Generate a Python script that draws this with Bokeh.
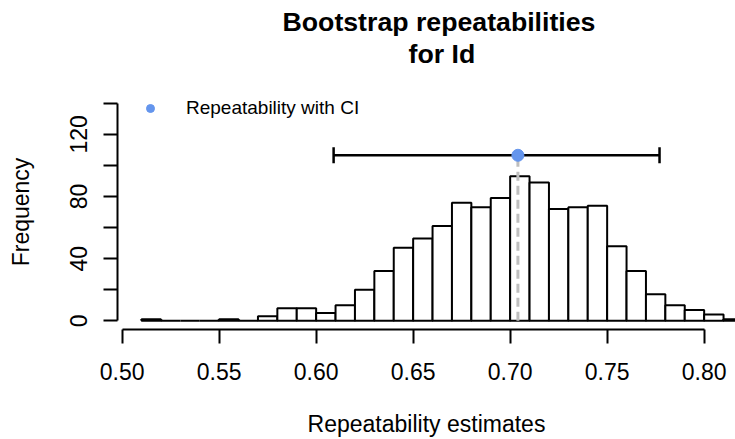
from bokeh.plotting import figure
from bokeh.models import (Range1d, FixedTicker, Title, Whisker, TeeHead,
                          ColumnDataSource, Legend, LegendItem)
from bokeh.embed import file_html
from bokeh.resources import INLINE

# ---------------- data ----------------
bin_left = [0.51, 0.52, 0.53, 0.54, 0.55, 0.56, 0.57, 0.58, 0.59, 0.60,
            0.61, 0.62, 0.63, 0.64, 0.65, 0.66, 0.67, 0.68, 0.69, 0.70,
            0.71, 0.72, 0.73, 0.74, 0.75, 0.76, 0.77, 0.78, 0.79, 0.80, 0.81]
bin_width = 0.01
counts = [1, 0, 0, 0, 1, 0, 3, 8, 8, 5,
          10, 20, 32, 47, 53, 61, 76, 73, 79, 93,
          89, 72, 73, 74, 48, 32, 17, 10, 7, 4, 1]

estimate = 0.704
ci_lower = 0.609
ci_upper = 0.777
estimate_level = 106.5

x_ticks = [0.50, 0.55, 0.60, 0.65, 0.70, 0.75, 0.80]
x_tick_labels = ["0.50", "0.55", "0.60", "0.65", "0.70", "0.75", "0.80"]
y_ticks = [0, 20, 40, 60, 80, 100, 120, 140]
y_tick_labels = ["0", "", "40", "", "80", "", "120", ""]

title_lines = ["Bootstrap repeatabilities", "for Id"]
x_label = "Repeatability estimates"
y_label = "Frequency"
legend_label = "Repeatability with CI"

FONT = "Liberation Sans"

# ---------------- figure ----------------
p = figure(width=735, height=439, output_backend="svg", toolbar_location=None,
           x_range=Range1d(0.4976, 0.81616), y_range=Range1d(-5.6, 145.6),
           min_border_left=117, min_border_right=0, min_border_top=94,
           min_border_bottom=110, title=None)
p.outline_line_color = None
p.grid.visible = False
p.background_fill_color = "white"
p.border_fill_color = "white"

# titles: panels stack outward from the frame (spacer, line 2, line 1)
spacer = Title(text=" ", text_font=FONT, text_font_size="1px", standoff=23)
t2 = Title(text=title_lines[1], text_font=FONT, text_font_size="26.7px",
           text_font_style="bold", text_color="black", align="left",
           offset=291, standoff=0)
t1 = Title(text=title_lines[0], text_font=FONT, text_font_size="26.7px",
           text_font_style="bold", text_color="black", align="left",
           offset=165, standoff=0)
p.add_layout(spacer, "above")
p.add_layout(t2, "above")
p.add_layout(t1, "above")

# histogram
hist_src = ColumnDataSource(dict(
    left=bin_left,
    right=[b + bin_width for b in bin_left],
    top=counts,
    bottom=[0] * len(counts),
))
p.quad(left="left", right="right", top="top", bottom="bottom", source=hist_src,
       fill_color="white", line_color="black", line_width=2)

# dashed vertical line at the estimate
p.segment(x0=[estimate], y0=[0], x1=[estimate], y1=[estimate_level],
          line_color="#BEBEBE", line_width=3, line_dash="9 5")

# confidence interval
ci_src = ColumnDataSource(dict(base=[estimate_level], lower=[ci_lower], upper=[ci_upper]))
whisk = Whisker(source=ci_src, base="base", lower="lower", upper="upper",
                dimension="width", line_color="black", line_width=2.5,
                lower_head=TeeHead(size=16, line_width=2.5, line_color="black"),
                upper_head=TeeHead(size=16, line_width=2.5, line_color="black"))
p.add_layout(whisk)

# point estimate
dot = p.scatter(x=[estimate], y=[estimate_level], size=12,
                fill_color="#6495ED", line_color="#6495ED")

# legend
legend = Legend(items=[LegendItem(label=legend_label, renderers=[dot])],
                location=(23, 210), border_line_color=None,
                background_fill_alpha=0, padding=0, margin=0, spacing=0,
                glyph_width=20, glyph_height=20, label_standoff=26,
                label_height=20, label_text_font=FONT,
                label_text_font_size="19px", label_text_color="black")
p.add_layout(legend, "center")

# axes
xa = p.xaxis[0]
xa.ticker = FixedTicker(ticks=x_ticks, minor_ticks=[])
xa.major_label_overrides = {t: l for t, l in zip(x_ticks, x_tick_labels)}
xa.bounds = (x_ticks[0], x_ticks[-1])
ya = p.yaxis[0]
ya.ticker = FixedTicker(ticks=y_ticks, minor_ticks=[])
ya.major_label_overrides = {t: l for t, l in zip(y_ticks, y_tick_labels)}
ya.bounds = (y_ticks[0], y_ticks[-1])
ya.major_label_orientation = "vertical"

for ax in (xa, ya):
    ax.axis_line_width = 2
    ax.axis_line_color = "black"
    ax.major_tick_line_width = 2
    ax.major_tick_line_color = "black"
    ax.major_tick_out = 14
    ax.major_tick_in = 0
    ax.minor_tick_line_color = None
    ax.major_label_text_font = FONT
    ax.major_label_text_font_size = "23px"
    ax.major_label_text_color = "black"
    ax.axis_label_text_font = FONT
    ax.axis_label_text_font_size = "23px"
    ax.axis_label_text_font_style = "normal"
    ax.axis_label_text_color = "black"

xa.axis_label = x_label
xa.major_label_standoff = 19
xa.axis_label_standoff = 28
ya.axis_label = y_label
ya.major_label_standoff = 16
ya.axis_label_standoff = 34

open("out.html", "w").write(file_html(p, INLINE))
